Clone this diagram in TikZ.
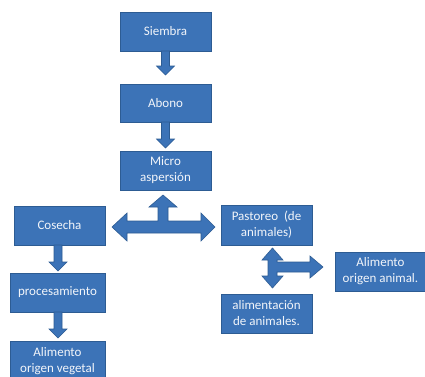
\documentclass[tikz,border=0pt]{standalone}
\usepackage{fontspec}
\setmainfont{Carlito}
\definecolor{boxblue}{HTML}{3C73B7}
\definecolor{edgeblue}{HTML}{2D5C93}
\definecolor{txtwhite}{HTML}{F2F5FA}
\tikzset{
  blk/.style={rectangle, draw=edgeblue, fill=boxblue, line width=0.9pt, text=txtwhite,
    font=\fontsize{13}{16}\selectfont, align=center, inner sep=1pt},
  blockarrow/.style={fill=boxblue, draw=edgeblue, line width=0.6pt, line join=miter}
}
\newcommand{\blkdown}[3]{\filldraw[blockarrow] (#1-4,#2) -- (#1+4,#2) -- (#1+4,#3-9) -- (#1+9,#3-9) -- (#1,#3) -- (#1-9,#3-9) -- (#1-4,#3-9) -- cycle;}
\begin{document}
\begin{tikzpicture}[x=1pt,y=-1pt]
\useasboundingbox[fill=white] (0,0) rectangle (425,376);
% boxes
\node[blk, minimum width=91pt, minimum height=39pt] (siembra) at (165.5,31.5) {Siembra};
\node[blk, minimum width=91pt, minimum height=38pt] (abono) at (165.5,103) {Abono};
\node[blk, minimum width=91pt, minimum height=39pt] (micro) at (165.5,170.5) {Micro\\aspersión};
\node[blk, minimum width=91pt, minimum height=39pt] (cosecha) at (59.5,225.5) {Cosecha};
\node[blk, minimum width=91pt, minimum height=40pt] (pastoreo) at (266.5,225) {Pastoreo\ \ (de\\animales)};
\node[blk, minimum width=95pt, minimum height=39pt] (proc) at (57.5,292.5) {procesamiento};
\node[blk, minimum width=95pt, minimum height=40pt] (vegetal) at (57.5,361) {Alimento\\origen vegetal};
\node[blk, minimum width=91pt, minimum height=39pt] (animal) at (380.5,271.5) {Alimento\\origen animal.};
\node[blk, minimum width=91pt, minimum height=39pt] (alimen) at (266.5,313.5) {alimentación\\de animales.};
% simple down arrows
\blkdown{165.5}{51}{75}
\blkdown{165.5}{122}{148}
\blkdown{58}{245}{271}
\blkdown{58}{312}{338}
% T-shaped arrow (up, left, right)
\filldraw[blockarrow] (112,227) -- (127,213) -- (127,221) -- (158,221) -- (158,207) -- (149,207)
  -- (163,195) -- (177,207) -- (168,207) -- (168,221) -- (201,221) -- (201,213) -- (215,227)
  -- (201,241) -- (201,233) -- (127,233) -- (127,241) -- cycle;
% double vertical arrow with branch to the right
\filldraw[blockarrow] (272.5,248) -- (283,260) -- (277,260) -- (277,262) -- (310,262) -- (310,256)
  -- (323,267) -- (310,278) -- (310,272) -- (277,272) -- (277,276) -- (283,276) -- (272.5,288)
  -- (262,276) -- (268,276) -- (268,260) -- (262,260) -- cycle;
\end{tikzpicture}
\end{document}
